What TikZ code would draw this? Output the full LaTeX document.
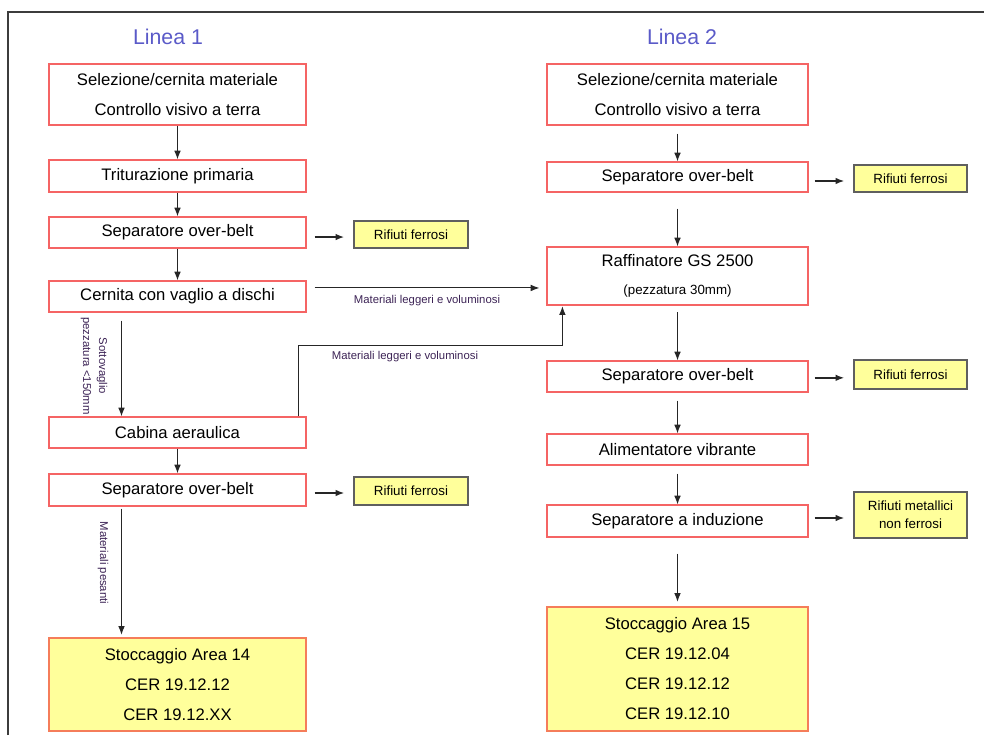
\documentclass[tikz,border=0pt]{standalone}
\usepackage{fontspec}
\setmainfont{Liberation Sans}
\usepackage{xcolor}
\usepackage{tikz}
\usetikzlibrary{arrows.meta,positioning}
\definecolor{boxred}{RGB}{245,100,100}
\definecolor{storeedge}{RGB}{245,125,90}
\definecolor{storefill}{RGB}{255,255,155}
\definecolor{wasteedge}{RGB}{95,95,95}
\definecolor{titleblue}{RGB}{90,90,200}
\definecolor{lblcol}{RGB}{60,35,85}
\definecolor{framegray}{RGB}{60,60,60}

\begin{document}
\begin{tikzpicture}[x=0.75pt, y=-0.75pt, >={Latex[length=6.5pt,width=5pt]},
    stage/.style={draw=boxred, line width=0.9pt, inner sep=0pt, minimum height=23.25pt,
        align=center, font=\fontsize{12.5}{22.5}\selectfont},
    stage1/.style={stage, minimum width=192.75pt},
    stage2/.style={stage, minimum width=195.75pt},
    store/.style={draw=storeedge, fill=storefill},
    waste/.style={draw=wasteedge, line width=1.2pt, fill=storefill, inner sep=0pt,
        minimum width=85.5pt, minimum height=20.25pt, align=center,
        font=\fontsize{10}{13.5}\selectfont},
    title/.style={text=titleblue, font=\fontsize{16}{19}\selectfont},
    lbl/.style={text=lblcol, inner sep=1pt, align=center, font=\fontsize{8.5}{12}\selectfont},
    flow/.style={->, draw=black!85, line width=0.75pt},
    warrow/.style={->, draw=black!85, line width=1.1pt}]
    \useasboundingbox (0,0) rectangle (984,735);
    \draw[framegray, line width=1.2pt] (8,735) -- (8,12) -- (984,12);

    \node[title] (t1) at (168,37) {Linea 1};
    \node[title] (t2) at (682,37) {Linea 2};

    % Linea 1
    \node[stage1, minimum height=45.75pt] (a1) at (177.5,94.5) {Selezione/cernita materiale\\Controllo visivo a terra};
    \node[stage1, minimum height=24pt] (a2) at (177.5,176) {Triturazione primaria};
    \node[stage1] (a3) at (177.5,232.5) {Separatore over-belt};
    \node[stage1] (a4) at (177.5,296.5) {Cernita con vaglio a dischi};
    \node[stage1] (a5) at (177.5,432.5) {Cabina aeraulica};
    \node[stage1, minimum height=24pt] (a6) at (177.5,490) {Separatore over-belt};
    \node[stage1, store, minimum height=69.75pt] (a7) at (177.5,684.5) {Stoccaggio Area 14\\CER 19.12.12\\CER 19.12.XX};

    \node[waste] (wa) at (411,234.5) {Rifiuti ferrosi};
    \node[waste, minimum height=21pt] (wb) at (411,491) {Rifiuti ferrosi};

    % Linea 2
    \node[stage2, minimum height=45.75pt] (b1) at (677.5,94.5) {Selezione/cernita materiale\\Controllo visivo a terra};
    \node[stage2, minimum height=22.5pt] (b2) at (677.5,177) {Separatore over-belt};
    \node[stage2, minimum height=43.5pt] (b3) at (677.5,276) {Raffinatore GS 2500\\[-2pt]\fontsize{10}{12}\selectfont(pezzatura 30mm)};
    \node[stage2] (b4) at (677.5,376.5) {Separatore over-belt};
    \node[stage2] (b5) at (677.5,449.5) {Alimentatore vibrante};
    \node[stage2, minimum height=24pt] (b6) at (677.5,521) {Separatore a induzione};
    \node[stage2, store, minimum height=93pt] (b7) at (677.5,669) {Stoccaggio Area 15\\CER 19.12.04\\CER 19.12.12\\CER 19.12.10};

    \node[waste, minimum width=84.75pt] (wc) at (910.5,178.5) {Rifiuti ferrosi};
    \node[waste, minimum width=84.75pt, minimum height=21.75pt] (wd) at (910.5,374.5) {Rifiuti ferrosi};
    \node[waste, minimum width=84.75pt, minimum height=34.5pt] (we) at (910.5,515) {Rifiuti metallici\\non ferrosi};

    % flusso linea 1
    \draw[flow] (a1) -- (a2);
    \draw[flow] (a2) -- (a3);
    \draw[flow] (a3) -- (a4);
    \draw[flow] ([xshift=-42pt,yshift=-6pt]a4.south) -- ([xshift=-42pt]a5.north);
    \draw[flow] (a5) -- (a6);
    \draw[flow] ([xshift=-42pt,yshift=-1.5pt]a6.south) -- ([xshift=-42pt,yshift=2pt]a7.north);
    \node[lbl, rotate=-90] (sotto) at (94,366) {Sottovaglio\\pezzatura <150mm};
    \node[lbl, rotate=-90] (pesanti) at (103,563) {Materiali pesanti};

    \draw[warrow] ([xshift=6pt,yshift=-3.4pt]a3.east) -- ([xshift=-6.75pt,yshift=-3.4pt]a3.east -| wa.west);
    \draw[warrow] ([xshift=6pt,yshift=-2.25pt]a6.east) -- ([xshift=-6.75pt,yshift=-2.25pt]a6.east -| wb.west);

    % leggeri verso linea 2
    \coordinate (h1) at ([xshift=6pt,yshift=6.4pt]a4.east);
    \draw[flow] (h1) -- ([xshift=-5.25pt]h1 -| b3.west)
        node[lbl, midway, below=4pt] {Materiali leggeri e voluminosi};
    \draw[flow] ([xshift=-6pt]a5.north east) |- ([xshift=12pt,yshift=-30pt]b3.south west)
        -- ([xshift=12pt,yshift=-0.5pt]b3.south west);
    \node[lbl] (legg2) at (405,357) {Materiali leggeri e voluminosi};

    % flusso linea 2
    \draw[flow] ([yshift=-6pt]b1.south) -- (b2);
    \draw[flow] ([yshift=-12pt]b2.south) -- (b3);
    \draw[flow] ([yshift=-5pt]b3.south) -- (b4);
    \draw[flow] ([yshift=-6pt]b4.south) -- (b5);
    \draw[flow] ([yshift=-6pt]b5.south) -- (b6);
    \draw[flow] ([yshift=-12pt]b6.south) -- ([yshift=3.5pt]b7.north);

    \draw[warrow] ([xshift=4.5pt,yshift=-3pt]b2.east) -- ([xshift=-6.75pt,yshift=-3pt]b2.east -| wc.west);
    \draw[warrow] ([xshift=4.5pt,yshift=-1pt]b4.east) -- ([xshift=-6.75pt,yshift=-1pt]b4.east -| wd.west);
    \draw[warrow] ([xshift=4.5pt,yshift=2.25pt]b6.east) -- ([xshift=-6.75pt,yshift=2.25pt]b6.east -| we.west);
\end{tikzpicture}
\end{document}
